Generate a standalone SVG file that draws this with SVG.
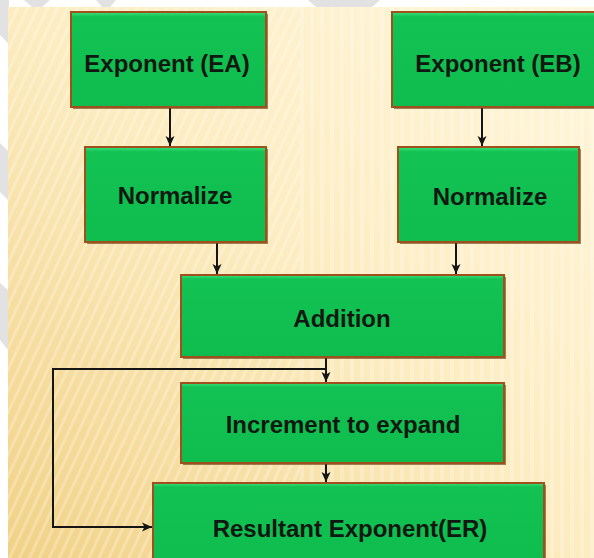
<svg xmlns="http://www.w3.org/2000/svg" width="594" height="558" viewBox="0 0 594 558">
  <defs>
    <linearGradient id="bg" x1="1" y1="0" x2="0" y2="1">
      <stop offset="0" stop-color="#fff7dc"/>
      <stop offset="0.5" stop-color="#fcecc0"/>
      <stop offset="1" stop-color="#f1d186"/>
    </linearGradient>
    <pattern id="diag" width="9" height="9" patternUnits="userSpaceOnUse" patternTransform="rotate(25)">
      <rect x="0" y="0" width="3" height="9" fill="#ffffff" fill-opacity="0.25"/>
    </pattern>
    <pattern id="vert" width="10" height="10" patternUnits="userSpaceOnUse">
      <rect x="0" y="0" width="4" height="10" fill="#ffffff" fill-opacity="0.22"/>
    </pattern>
    <linearGradient id="boxfill" x1="0" y1="0" x2="0" y2="1">
      <stop offset="0" stop-color="#3ce27e"/>
      <stop offset="0.05" stop-color="#12c252"/>
      <stop offset="1" stop-color="#0ebd4e"/>
    </linearGradient>
    <marker id="arrow" markerWidth="12" markerHeight="12" refX="10" refY="6" orient="auto" markerUnits="userSpaceOnUse">
      <path d="M0,1.5 L10,6 L0,10.5 L2.5,6 Z" fill="#151515"/>
    </marker>
    <style>
      .box { fill: url(#boxfill); stroke: #a0501c; stroke-width: 2; }
      .shadow { fill: #6b4416; fill-opacity: 0.65; }
      .lbl { font-family: "Liberation Sans", Arial, sans-serif; font-weight: bold; font-size: 24px; fill: #111811; text-anchor: middle; }
      .conn { fill: none; stroke: #151515; stroke-width: 2; }
      .deco { fill: #e2e2e2; }
    </style>
  </defs>

  <!-- background -->
  <rect x="0" y="0" width="594" height="558" fill="#ffffff"/>
  <g id="margin-deco">
    <polygon class="deco" points="0,0 9,0 9,7 0,7"/>
    <polygon class="deco" points="24,0 50,0 42,7 32,7"/>
    <polygon class="deco" points="96,0 116,0 110,7 102,7"/>
    <polygon class="deco" points="308,0 380,0 372,7 316,7"/>
    <polygon class="deco" points="0,0 8,0 8,43 0,35"/>
    <polygon class="deco" points="0,143 8,151 8,200 0,192"/>
    <polygon class="deco" points="0,283 8,290 8,350 0,340"/>
  </g>
  <rect x="8" y="7" width="586" height="551" fill="url(#bg)"/>
  <rect x="8" y="7" width="292" height="551" fill="url(#diag)"/>
  <rect x="300" y="7" width="294" height="551" fill="url(#vert)"/>

  <!-- connectors -->
  <g id="connectors">
    <line class="conn" x1="170" y1="108" x2="170" y2="146" marker-end="url(#arrow)"/>
    <line class="conn" x1="482" y1="108" x2="482" y2="146" marker-end="url(#arrow)"/>
    <line class="conn" x1="217" y1="243" x2="217" y2="274" marker-end="url(#arrow)"/>
    <line class="conn" x1="456" y1="243" x2="456" y2="274" marker-end="url(#arrow)"/>
    <line class="conn" x1="326" y1="358" x2="326" y2="382" marker-end="url(#arrow)"/>
    <polyline class="conn" points="326,369 53,369 53,527 152,527" marker-end="url(#arrow)"/>
    <line class="conn" x1="326" y1="464" x2="326" y2="482" marker-end="url(#arrow)"/>
  </g>

  <!-- nodes -->
  <g id="exponent-ea">
    <rect class="shadow" x="73" y="14" width="195" height="95"/>
    <rect class="box" x="71" y="12" width="195" height="95"/>
    <text class="lbl" x="167" y="72">Exponent (EA)</text>
  </g>
  <g id="exponent-eb">
    <rect class="shadow" x="394" y="14" width="202" height="95"/>
    <rect class="box" x="392" y="12" width="203" height="95"/>
    <text class="lbl" x="498" y="72">Exponent (EB)</text>
  </g>
  <g id="normalize-a">
    <rect class="shadow" x="87" y="149" width="181" height="95"/>
    <rect class="box" x="85" y="147" width="181" height="95"/>
    <text class="lbl" x="175" y="204">Normalize</text>
  </g>
  <g id="normalize-b">
    <rect class="shadow" x="400" y="149" width="181" height="95"/>
    <rect class="box" x="398" y="147" width="181" height="95"/>
    <text class="lbl" x="490" y="205">Normalize</text>
  </g>
  <g id="addition">
    <rect class="shadow" x="183" y="277" width="323" height="82"/>
    <rect class="box" x="181" y="275" width="323" height="82"/>
    <text class="lbl" x="342" y="327">Addition</text>
  </g>
  <g id="increment">
    <rect class="shadow" x="183" y="385" width="323" height="80"/>
    <rect class="box" x="181" y="383" width="323" height="80"/>
    <text class="lbl" x="343" y="433">Increment to expand</text>
  </g>
  <g id="resultant">
    <rect class="shadow" x="155" y="485" width="391" height="80"/>
    <rect class="box" x="153" y="483" width="391" height="80"/>
    <text class="lbl" x="350" y="537">Resultant Exponent(ER)</text>
  </g>
</svg>
